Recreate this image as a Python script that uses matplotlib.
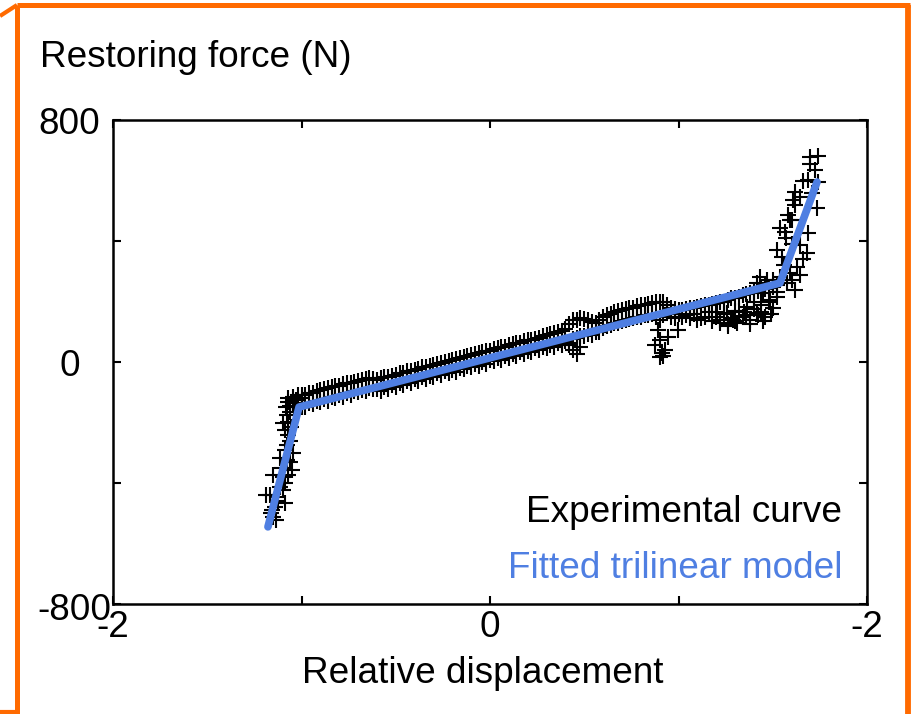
import matplotlib
matplotlib.use("Agg")
import matplotlib.pyplot as plt
from matplotlib.lines import Line2D
from matplotlib.transforms import ScaledTranslation

plt.rcParams['font.family'] = ['Liberation Sans', 'DejaVu Sans']

# ---------------- data ----------------
# experimental curve: dense band, x positions (two staggered sets)
band_a_x = [-1.00, -0.96, -0.92, -0.88, -0.84, -0.80, -0.76, -0.72, -0.68, -0.64,
            -0.60, -0.56, -0.52, -0.48, -0.44, -0.40, -0.36, -0.32, -0.28, -0.24,
            -0.20, -0.16, -0.12, -0.08, -0.04, 0.00, 0.04, 0.08, 0.12, 0.16,
            0.20, 0.24, 0.28, 0.32, 0.36, 0.40, 0.44, 0.48, 0.52, 0.56,
            0.60, 0.64, 0.68, 0.72, 0.76, 0.80, 0.84, 0.88, 0.92, 0.96,
            1.00, 1.04, 1.08, 1.12, 1.16, 1.20, 1.24, 1.28, 1.32, 1.36,
            1.40, 1.44, 1.48, 1.52]
band_b_x = [-0.98, -0.94, -0.90, -0.86, -0.82, -0.78, -0.74, -0.70, -0.66, -0.62,
            -0.58, -0.54, -0.50, -0.46, -0.42, -0.38, -0.34, -0.30, -0.26, -0.22,
            -0.18, -0.14, -0.10, -0.06, -0.02, 0.02, 0.06, 0.10, 0.14, 0.18,
            0.22, 0.26, 0.30, 0.34, 0.38, 0.42, 0.46, 0.50, 0.54, 0.58,
            0.62, 0.66, 0.70, 0.74, 0.78, 0.82, 0.86, 0.90, 0.94, 0.98,
            1.02, 1.06, 1.10, 1.14, 1.18, 1.22, 1.26, 1.30, 1.34, 1.38,
            1.42, 1.46, 1.50]
# upper edge of band at band_a_x
band_a_up = [-109, -103, -95, -90, -82, -78, -70, -65, -58, -52,
             -58, -50, -45, -38, -31, -26, -18, -13, -5, 0,
             8, 12, 20, 26, 33, 38, 46, 50, 60, 64,
             72, 76, 85, 92, 98, 110, 138, 145, 140, 128,
             150, 160, 168, 175, 180, 188, 192, 198, 200, 180,
             172, 175, 180, 185, 190, 196, 200, 210, 215, 225,
             232, 240, 245, 255]
# lower edge of band at band_a_x
band_a_lo = [-150, -137, -130, -122, -116, -110, -103, -96, -91, -85,
             -88, -82, -76, -70, -63, -57, -50, -45, -38, -31,
             -25, -19, -12, -6, 1, 7, 13, 19, 26, 32,
             38, 45, 50, 56, 62, 70, 75, 85, 92, 98,
             112, 122, 130, 138, 145, 150, 156, 150, 155, 150,
             160, 155, 160, 145, 165, 150, 160, 145, 170, 155,
             175, 165, 200, 215]
# upper edge of band at band_b_x
band_b_up = [-110, -102, -92, -86, -80, -74, -68, -62, -56, -55,
             -54, -48, -42, -35, -29, -22, -16, -9, -3, 4,
             10, 16, 23, 29, 35, 42, 48, 55, 62, 68,
             74, 80, 88, 95, 104, 125, 140, 142, 132, 138,
             155, 164, 171, 177, 184, 190, 195, 199, 190, 175,
             173, 178, 182, 187, 193, 198, 205, 212, 220, 228,
             236, 242, 250]
# lower edge of band at band_b_x
band_b_lo = [-148, -140, -133, -128, -120, -115, -108, -100, -95, -90,
             -95, -88, -82, -75, -70, -62, -57, -50, -44, -36,
             -32, -24, -18, -12, -5, 2, 8, 14, 20, 28,
             33, 40, 45, 50, 55, 62, 80, 85, 88, 100,
             120, 128, 135, 142, 150, 155, 160, 140, 165, 145,
             150, 145, 140, 150, 135, 140, 125, 135, 150, 140,
             155, 150, 180]
# experimental curve: scattered points (steep ends and outliers)
scat_x = [-1.151, -1.167, -1.130, -1.098, -1.151, -1.072, -1.050, -1.103, -1.114, -1.077,
          -1.045, -1.077, -1.072, -1.098, -1.072, -1.077, -1.061, -1.045, -1.072, -1.045,
          -1.019, -1.072, -1.141, -1.088, -1.114, -1.188, -1.156, -1.135,
          -1.16, -1.125, -1.09, -1.10, -1.06, -1.085, -1.06, -1.09, -1.055, -1.04,
          -1.06, -1.08, -1.03, -1.00,
          0.44, 0.46, 0.48, 0.42,
          0.891, 0.944, 0.902, 0.912, 0.928, 0.875, 0.997, 0.90, 0.92,
          1.698, 1.724, 1.687, 1.740, 1.618, 1.645, 1.607, 1.735, 1.581, 1.602,
          1.538, 1.565, 1.687, 1.645, 1.523, 1.549, 1.682, 1.629, 1.645, 1.592,
          1.432, 1.470, 1.538, 1.618, 1.576, 1.501, 1.416, 1.448, 1.485, 1.363,
          1.289, 1.342, 1.257, 1.416, 1.204,
          1.66, 1.71, 1.62, 1.59, 1.57, 1.60, 1.66, 1.56, 1.60, 1.50,
          1.46, 1.52, 1.40, 1.35, 1.30, 1.44, 1.74, 1.70,
          1.22, 1.26, 1.31, 1.38, 1.45, 1.49]
scat_y = [-512, -440, -446, -423, -374, -374, -357, -350, -317, -324,
          -301, -274, -241, -202, -198, -175, -165, -136, -132, -116,
          -109, -119, -479, -466, -413, -440, -489, -522,
          -500, -460, -400, -380, -330, -290, -260, -225, -215, -150,
          -145, -150, -125, -120,
          40, 25, 50, 55,
          106, 83, 73, 30, 40, 56, 106, 15, 20,
          678, 635, 602, 595, 562, 545, 536, 509, 486, 469,
          443, 430, 426, 387, 370, 347, 360, 314, 288, 294,
          281, 271, 281, 238, 261, 248, 261, 228, 205, 182,
          139, 149, 162, 162, 165,
          600, 560, 520, 470, 410, 390, 340, 320, 270, 270,
          250, 230, 200, 165, 170, 190, 680, 655,
          130, 120, 128, 125, 135, 160]

# fitted trilinear model vertices
model_x = [-1.178, -1.013, 1.538, 1.735]
model_y = [-545, -149, 261, 595]

x_ticks = [-2, -1, 0, 1, 2]
x_ticklabels = ['-2', '', '0', '', '-2']
y_ticks = [-800, -400, 0, 400, 800]
y_ticklabels = ['-800', '', '0', '', '800']

legend_labels = ['Experimental curve', 'Fitted trilinear model']

# ---------------- figure ----------------
W, H = 913, 714
fig = plt.figure(figsize=(W / 100, H / 100), dpi=100)
fig.patch.set_facecolor('white')

ax = fig.add_axes([113 / W, (H - 604) / H, 754 / W, 484 / H])

FS = 26.6
blue = '#4F7FE2'
mk = dict(linestyle='none', marker='+', markersize=12, markeredgewidth=1.5,
          color='black')
ax.plot(band_a_x, band_a_up, **mk)
ax.plot(band_a_x, band_a_lo, **mk)
ax.plot(band_b_x, band_b_up, **mk)
ax.plot(band_b_x, band_b_lo, **mk)
ax.plot(scat_x, scat_y, **mk)
ax.plot(model_x, model_y, color=blue, lw=5.5, solid_capstyle='round',
        solid_joinstyle='round')

ax.set_xlim(-2, 2)
ax.set_ylim(-800, 800)
ax.set_xticks(x_ticks)
ax.set_xticklabels(x_ticklabels)
ax.set_yticks(y_ticks)
ax.set_yticklabels(y_ticklabels)
ax.tick_params(direction='in', length=6, width=1.5, top=True, right=True,
               labelsize=FS, colors='black')
ax.tick_params(axis='x', pad=4)
ax.tick_params(axis='y', pad=9)
for s in ax.spines.values():
    s.set_linewidth(1.8)
    s.set_color('black')

# individual y tick label offsets
offs = {'0': (-0.20, 0.0), '-800': (0.11, -0.03)}
for lab in ax.get_yticklabels():
    t = lab.get_text()
    if t in offs:
        dx, dy = offs[t]
        lab.set_transform(lab.get_transform() + ScaledTranslation(dx, dy, fig.dpi_scale_trans))

ax.set_xlabel('Relative displacement', fontsize=FS, va='baseline')
ax.xaxis.set_label_coords(0.4907, (604 - 683) / 484)

fig.text(40 / W, 1 - 67 / H, 'Restoring force (N)', fontsize=FS,
         ha='left', va='baseline')

# legend as right-aligned coloured texts
ax.text(0.967, (604 - 522) / 484, legend_labels[0], transform=ax.transAxes,
        fontsize=FS, ha='right', va='baseline', color='black')
ax.text(0.967, (604 - 578) / 484, legend_labels[1], transform=ax.transAxes,
        fontsize=FS, ha='right', va='baseline', color=blue)

# orange frame
orange = '#FF6A00'
def fl(xs, ys, lw=3.6):
    fig.add_artist(Line2D([x / W for x in xs], [1 - y / H for y in ys],
                          color=orange, lw=lw, solid_capstyle='butt'))
fl([17, 910], [5, 5])
fl([17, 17], [5, 714])
fl([908, 908], [5, 714], lw=4.2)
fl([0, 17], [16, 5], lw=3.0)
fl([0, 15], [712, 712], lw=3.0)

fig.savefig('out.png', dpi=100, facecolor='white')
